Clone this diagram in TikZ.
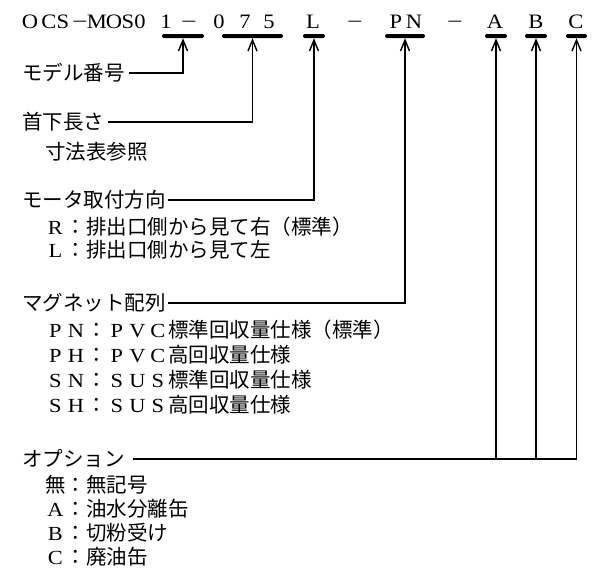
\documentclass[tikz,border=0pt]{standalone}
\usepackage{fontspec}
\setmainfont{Liberation Serif}
\newfontfamily\jp{Noto Sans CJK JP}
\newfontfamily\lat{Liberation Serif}
\usetikzlibrary{arrows.meta}
\newcommand\fw[1]{\makebox[1em]{\lat\fontsize{20}{22}\selectfont\scalebox{1.12}[1]{#1}}}
\newcommand\hmin{\scalebox{1.35}[1]{−}}
\newcommand\hc[1]{\scalebox{1.1}[1]{#1}}
\begin{document}
\begin{tikzpicture}[x=1pt,y=1pt,
  hd/.style={font=\lat\fontsize{20.5}{24}\selectfont, inner sep=0pt, anchor=base},
  lab/.style={font=\jp\fontsize{20.5}{24}\selectfont, inner sep=0pt, anchor=west},
  bar/.style={fill=black, rounded corners=2pt, minimum height=4pt, inner sep=0pt},
  conn/.style={line width=1.4pt, -{Straight Barb[length=11pt,width=9pt,line width=1.4pt]}},
  wire/.style={line width=1.4pt}]
\useasboundingbox (0,0) rectangle (595,-576);
% header
\node[hd] (h1) at (30,-28) {\hc{O}};
\node[hd] (h2) at (49,-28) {\hc{C}};
\node[hd] (h3) at (63,-28) {\hc{S}};
\node[hd] (h4) at (80,-28) {\hmin};
\node[hd] (h5) at (97,-28) {\hc{M}};
\node[hd] (h6) at (114,-28) {\hc{O}};
\node[hd] (h7) at (128,-28) {\hc{S}};
\node[hd] (h8) at (140,-28) {\hc{0}};
\node[hd] (h9) at (166,-28) {\hc{1}};
\node[hd] (h10) at (189,-28) {\hmin};
\node[hd] (h11) at (219,-28) {\hc{0}};
\node[hd] (h12) at (245,-28) {\hc{7}};
\node[hd] (h13) at (269,-28) {\hc{5}};
\node[hd] (h14) at (313,-28) {\hc{L}};
\node[hd] (h15) at (355,-28) {\hmin};
\node[hd] (h16) at (396,-28) {\hc{P}};
\node[hd] (h17) at (414,-28) {\hc{N}};
\node[hd] (h18) at (455,-28) {\hmin};
\node[hd] (h19) at (495,-28) {\hc{A}};
\node[hd] (h20) at (536,-28) {\hc{B}};
\node[hd] (h21) at (576,-28) {\hc{C}};
% bars
\node[bar, minimum width=42pt] (b1) at (183,-36) {};
\node[bar, minimum width=61pt] (b2) at (252.5,-36) {};
\node[bar, minimum width=22pt] (b3) at (314,-36) {};
\node[bar, minimum width=40pt] (b4) at (405,-36) {};
\node[bar, minimum width=22pt] (b5) at (496,-36) {};
\node[bar, minimum width=22pt] (b6) at (536,-36) {};
\node[bar, minimum width=21pt] (b7) at (576.5,-36) {};
% labels
\node[lab] (l1) at (22,-73) {モデル番号};
\node[lab] (l2) at (22,-122) {首下長さ};
\node[lab] (s2) at (45,-152) {寸法表参照};
\node[lab] (l3) at (22,-200) {モータ取付方向};
\node[lab] (s3a) at (45,-227) {\fw{R}：排出口側から見て右（標準）};
\node[lab] (s3b) at (45,-250) {\fw{L}：排出口側から見て左};
\node[lab] (l4) at (22,-303) {マグネット配列};
\node[lab] (s4a) at (45,-330) {\fw{P}\fw{N}：\fw{P}\fw{V}\fw{C}標準回収量仕様（標準）};
\node[lab] (s4b) at (45,-355) {\fw{P}\fw{H}：\fw{P}\fw{V}\fw{C}高回収量仕様};
\node[lab] (s4c) at (45,-380) {\fw{S}\fw{N}：\fw{S}\fw{U}\fw{S}標準回収量仕様};
\node[lab] (s4d) at (45,-405) {\fw{S}\fw{H}：\fw{S}\fw{U}\fw{S}高回収量仕様};
\node[lab] (l5) at (22,-459) {オプション};
\node[lab] (s5a) at (45,-485) {無：無記号};
\node[lab] (s5b) at (45,-509) {\fw{A}：油水分離缶};
\node[lab] (s5c) at (45,-533) {\fw{B}：切粉受け};
\node[lab] (s5d) at (45,-557) {\fw{C}：廃油缶};
% connectors
\draw[conn] ([xshift=4pt]l1.east) -| (b1.south);
\draw[conn] ([xshift=4pt]l2.east) -| (b2.south);
\draw[conn] ([xshift=2pt]l3.east) -| (b3.south);
\draw[conn] ([xshift=2pt]l4.east) -| (b4.south);
\draw[conn] ([xshift=8pt]l5.east) -| (b7.south);
\draw[conn] (l5.east -| b5.south) -- (b5.south);
\draw[conn] (l5.east -| b6.south) -- (b6.south);
\end{tikzpicture}
\end{document}
